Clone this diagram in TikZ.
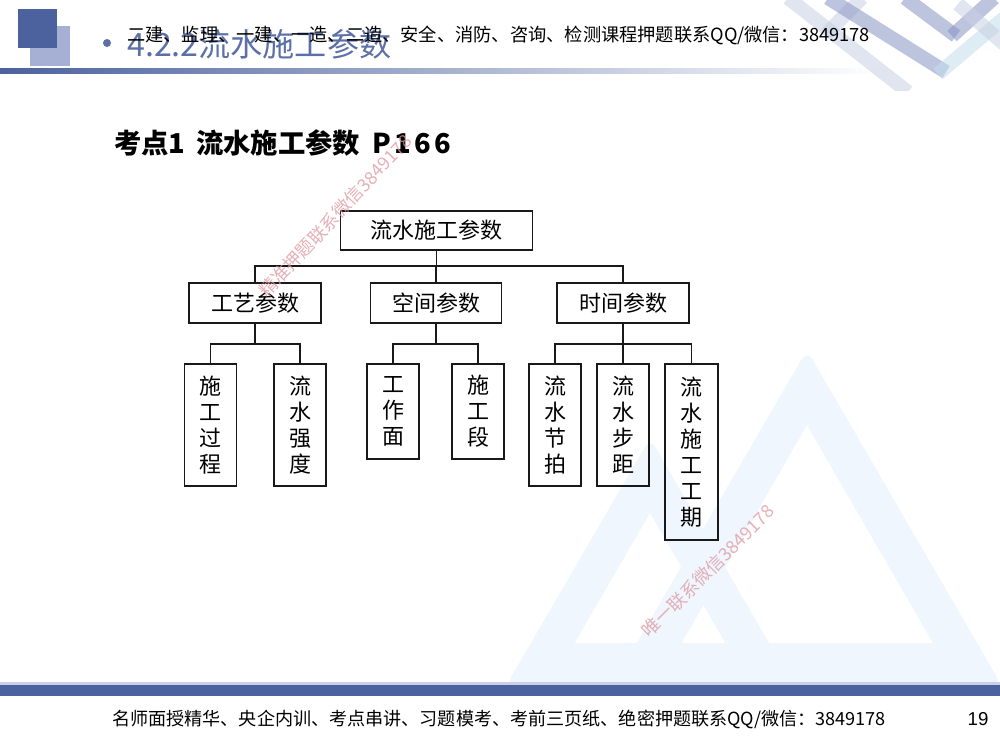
\documentclass[tikz,border=0pt]{standalone}
\usepackage{fontspec}
\setmainfont{Liberation Sans}
\newfontfamily\cjk{Noto Sans CJK SC}
\newfontfamily\cjkwide[LetterSpace=12]{Noto Sans CJK SC}
\usetikzlibrary{calc}
\definecolor{cdark}{RGB}{76,98,158}
\definecolor{clight}{RGB}{166,176,212}
\definecolor{ctitle}{RGB}{92,112,168}
\definecolor{clogo}{RGB}{240,246,253}
\definecolor{cpink}{RGB}{222,150,160}
\definecolor{cpatl}{RGB}{200,208,228}
\definecolor{cpatm}{RGB}{136,148,196}
\definecolor{cpatc}{RGB}{196,222,236}
\begin{document}
\begin{tikzpicture}[x=0.75pt,y=-0.75pt,
  box/.style={draw=black!90,line width=1.1pt,inner sep=0pt,align=center,
    font=\cjk\fontsize{16.5pt}{19.5pt}\selectfont},
  conn/.style={draw=black!90,line width=1.1pt},
  band/.style={line width=10.5pt,opacity=0.55},
  wm/.style={text=cpink,opacity=0.75,font=\cjk\fontsize{13.5pt}{15pt}\selectfont}]
\useasboundingbox (0,0) rectangle (1000,750);
\fill[white] (0,0) rectangle (1000,750);
% background logo
\fill[clogo,even odd rule] [rounded corners=8pt] (612,686)--(807,350)--(1002,686)--cycle
  [sharp corners] (681.5,643)--(807,425)--(933,643)--cycle;
\fill[clogo,even odd rule] [rounded corners=8pt] (506,686)--(650,438)--(794,686)--cycle
  [sharp corners] (574.6,643)--(650,513)--(725.4,643)--cycle;
% top-left squares and header
\fill[clight] (30,26) rectangle (70,66);
\fill[cdark] (18,9) rectangle (57,48);
\fill[ctitle] (107,43) circle [radius=3pt];
\shade[left color=cdark,right color=white] (0,68) rectangle (880,73);
% top-right pattern
\begin{scope}
\clip (770,0) rectangle (1000,90);
\draw[band,cpatl] (788,-2)--(908,92);
\draw[band,cpatl] (826,34)--(862,-2);
\draw[band,cpatm] (828,-2)--(946,72);
\draw[band,cpatm] (905,-2)--(956,36);
\draw[band,cpatm] (952,36)--(994,-2);
\draw[band,cpatc] (938,74)--(1004,18);
\draw[band,cpatl] (958,4)--(1004,44);
\end{scope}
\node[anchor=west,inner sep=0pt,text=ctitle] (htitle) at (127,44)
  {\resizebox{198pt}{!}{\cjk 4.2.2流水施工参数}};
\node[anchor=west,inner sep=0pt] (hnote) at (127,35)
  {\resizebox{557pt}{!}{\cjk 二建、监理、一建、一造、二造、安全、消防、咨询、检测课程押题联系QQ/微信：3849178}};
% title
\node[anchor=west,inner sep=0pt] (title) at (114,143)
  {\cjk\bfseries\fontsize{20.5pt}{22pt}\selectfont 考点1\hspace{8pt}流水施工参数\hspace{9pt}{\cjkwide\bfseries P166}};
% chart
\node[box,minimum width=144pt,minimum height=29.25pt] (root) at (436.5,230.5) {流水施工参数};
\node[box,minimum width=99pt,minimum height=30pt] (gy) at (255,303) {工艺参数};
\node[box,minimum width=98.25pt,minimum height=30pt] (kj) at (436,303) {空间参数};
\node[box,minimum width=99pt,minimum height=30pt] (sj) at (623,303) {时间参数};
\node[box,minimum width=39pt,minimum height=91.5pt] (a1) at (210.5,425) {施\\工\\过\\程};
\node[box,minimum width=39pt,minimum height=91.5pt] (a2) at (300,425) {流\\水\\强\\度};
\node[box,minimum width=39pt,minimum height=71.25pt] (b1) at (393,411.5) {工\\作\\面};
\node[box,minimum width=39pt,minimum height=71.25pt] (b2) at (478,411.5) {施\\工\\段};
\node[box,minimum width=39pt,minimum height=91.5pt] (c1) at (555,425) {流\\水\\节\\拍};
\node[box,minimum width=39pt,minimum height=91.5pt] (c2) at (623,425) {流\\水\\步\\距};
\node[box,minimum width=39.75pt,minimum height=132pt] (c3) at (691.5,452) {流\\水\\施\\工\\工\\期};
\coordinate (j1) at (436.5,266);
\coordinate (j2) at (255,344);
\coordinate (j3) at (436,344);
\coordinate (j4) at (623,344);
\draw[conn] (root.south) -- (j1);
\draw[conn] (gy.north) |- (j1);
\draw[conn] (sj.north) |- (j1);
\draw[conn] (kj.north) -- (kj.north |- j1);
\draw[conn] (gy.south) -- (j2);
\draw[conn] (a1.north) |- (j2);
\draw[conn] (a2.north) |- (j2);
\draw[conn] (kj.south) -- (j3);
\draw[conn] (b1.north) |- (j3);
\draw[conn] (b2.north) |- (j3);
\draw[conn] (sj.south) -- (j4);
\draw[conn] (c1.north) |- (j4);
\draw[conn] (c3.north) |- (j4);
\draw[conn] (c2.north) -- (j4);
% watermarks
\node[wm,rotate=47] (wm1) at (335,216) {精准押题联系微信3849178};
\node[wm,rotate=45] (wm2) at (708,571) {唯一联系微信3849178};
% footer
\fill[clight!60] (0,682) rectangle (1000,685);
\fill[cdark] (0,685) rectangle (1000,696);
\node[anchor=west,inner sep=0pt] (foot) at (112,719)
  {\resizebox{580pt}{!}{\cjk 名师面授精华、央企内训、考点串讲、习题模考、考前三页纸、绝密押题联系QQ/微信：3849178}};
\node[inner sep=0pt,font=\fontsize{14pt}{16pt}\selectfont] (pg) at (978,719) {19};
\end{tikzpicture}
\end{document}
